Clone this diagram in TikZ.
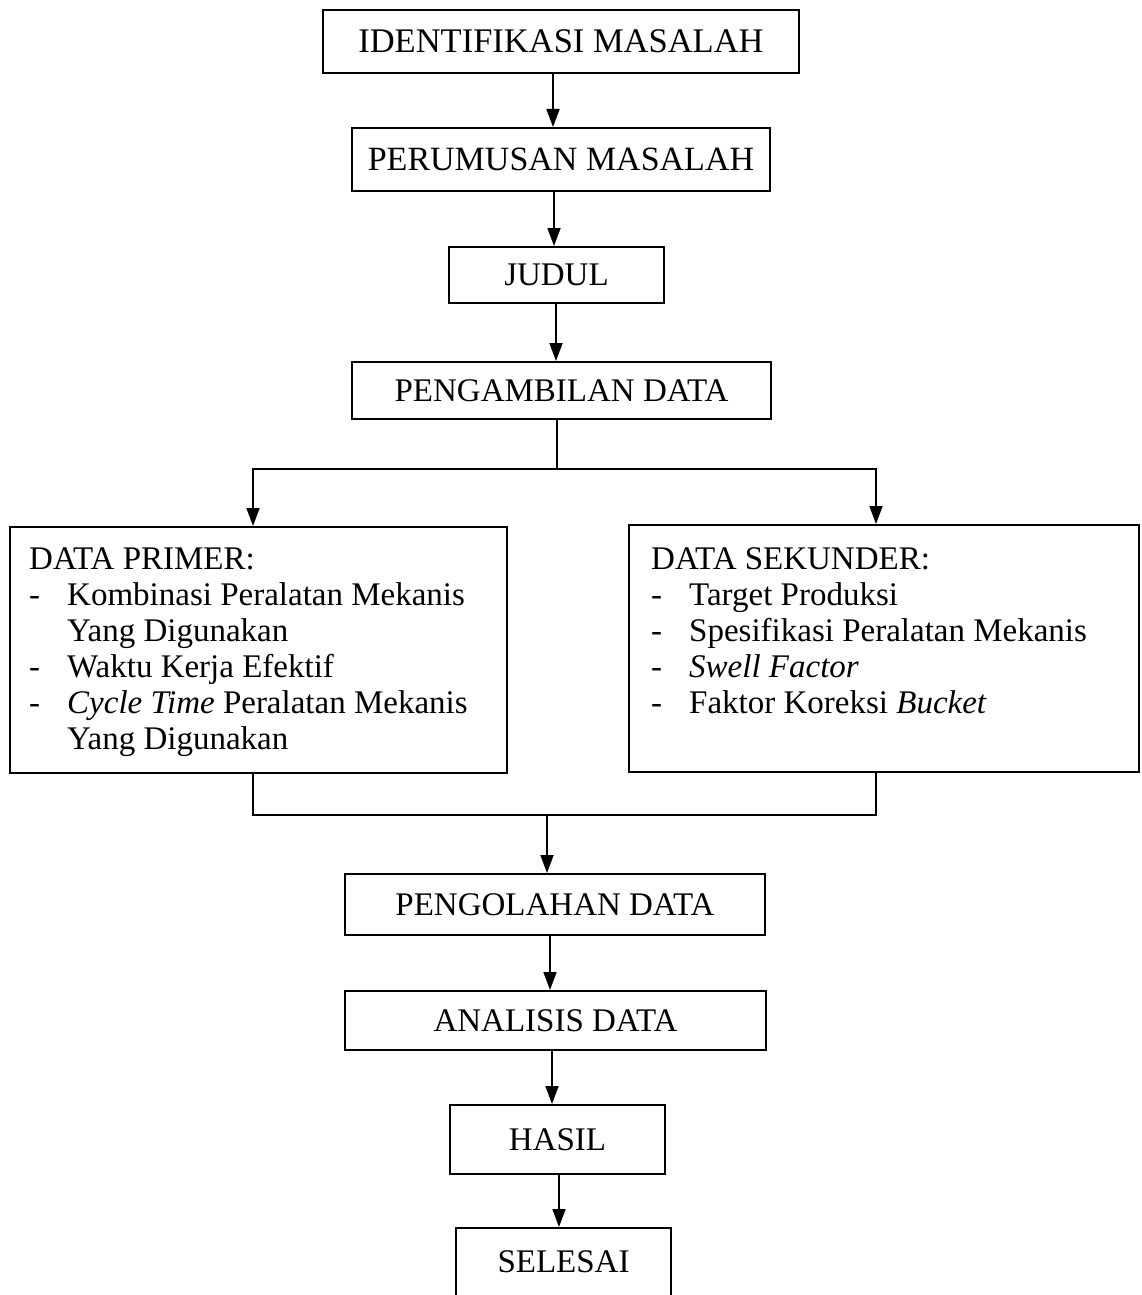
\documentclass[tikz,border=0pt]{standalone}
\usepackage{fontspec}
\setmainfont{Liberation Serif}
\usetikzlibrary{arrows.meta,calc}
\begin{document}
\begin{tikzpicture}[x=1pt,y=-1pt,
  box/.style={draw, line width=2pt, inner sep=0pt, font=\fontsize{33}{37}\selectfont},
  txt/.style={anchor=base west, inner sep=0pt, font=\fontsize{33}{37}\selectfont},
  conn/.style={line width=1.8pt},
  arr/.style={conn, -{Triangle[length=18pt,width=13pt]}}]
\useasboundingbox (0,0) rectangle (1141,1295);
\clip (0,0) rectangle (1141,1295);
% boxes
\node[box, minimum width=476pt, minimum height=63pt, font=\fontsize{34.5}{37}\selectfont] (ident) at (561,41.5) {IDENTIFIKASI MASALAH};
\node[box, minimum width=418pt, minimum height=63pt, font=\fontsize{34}{37}\selectfont] (rumus) at (561,159.5) {PERUMUSAN MASALAH};
\node[box, minimum width=215pt, minimum height=56pt] (judul) at (556.5,275) {JUDUL};
\node[box, minimum width=419pt, minimum height=57pt] (ambil) at (561.5,390.5) {PENGAMBILAN DATA};
\node[box, minimum width=497pt, minimum height=246pt] (primer) at (258.5,650) {};
\node[box, minimum width=510pt, minimum height=247pt] (sekunder) at (884,648.5) {};
\node[box, minimum width=420pt, minimum height=61pt] (olah) at (555,904.5) {PENGOLAHAN DATA};
\node[box, minimum width=421pt, minimum height=59pt] (analisis) at (555.5,1020.5) {ANALISIS DATA};
\node[box, minimum width=215pt, minimum height=69pt] (hasil) at (557.5,1139.5) {HASIL};
\node[box, minimum width=215pt, minimum height=100pt] (selesai) at (563.5,1278) {};
\node[txt, anchor=base] (selesaitxt) at (563.5,1272) {SELESAI};
% primer text
\node[txt] (p0) at (29,569) {DATA PRIMER:};
\node[txt] (pd1) at (29,605) {-};
\node[txt] (p1) at (67,605) {Kombinasi Peralatan Mekanis};
\node[txt] (p1b) at (67,641) {Yang Digunakan};
\node[txt] (pd2) at (29,677) {-};
\node[txt] (p2) at (67,677) {Waktu Kerja Efektif};
\node[txt] (pd3) at (29,713) {-};
\node[txt] (p3) at (67,713) {\textit{Cycle Time} Peralatan Mekanis};
\node[txt] (p3b) at (67,749) {Yang Digunakan};
% sekunder text
\node[txt] (s0) at (651,569) {DATA SEKUNDER:};
\node[txt] (sd1) at (651,605) {-};
\node[txt] (s1) at (689,605) {Target Produksi};
\node[txt] (sd2) at (651,641) {-};
\node[txt] (s2) at (689,641) {Spesifikasi Peralatan Mekanis};
\node[txt] (sd3) at (651,677) {-};
\node[txt] (s3) at (689,677) {\textit{Swell Factor}};
\node[txt] (sd4) at (651,713) {-};
\node[txt] (s4) at (689,713) {Faktor Koreksi \textit{Bucket}};
% junction coordinates
\coordinate (split) at (557,469);
\coordinate (merge) at (547,815);
% connectors
\draw[arr] (ident.south -| 553,0) -- (rumus.north -| 553,0);
\draw[arr] (rumus.south -| 554,0) -- (judul.north -| 554,0);
\draw[arr] (judul.south -| 556,0) -- (ambil.north -| 556,0);
\draw[conn] (ambil.south -| split) -- (split);
\draw[arr] (split) -| (primer.north -| 253,0);
\draw[arr] (split) -| (sekunder.north -| 876,0);
\draw[conn] (primer.south -| 253,0) |- (merge) -| (sekunder.south -| 876,0);
\draw[arr] (merge) -- (olah.north -| merge);
\draw[arr] (olah.south -| 550,0) -- (analisis.north -| 550,0);
\draw[arr] (analisis.south -| 552,0) -- (hasil.north -| 552,0);
\draw[arr] (hasil.south -| 559,0) -- (selesai.north -| 559,0);
\end{tikzpicture}
\end{document}
